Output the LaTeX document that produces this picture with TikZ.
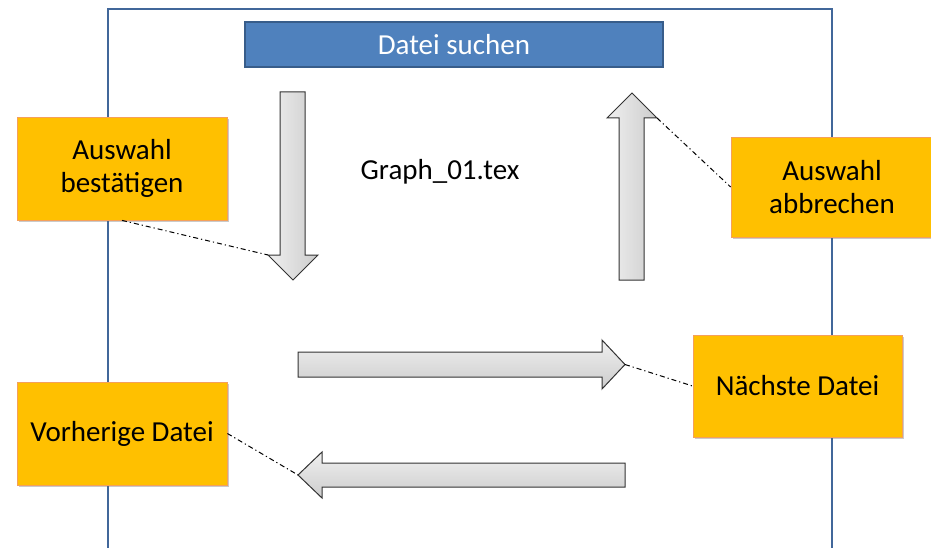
\documentclass[tikz,border=0pt]{standalone}
\usepackage{fontspec}
\setmainfont{Carlito}
\usetikzlibrary{shadows}
\definecolor{frameblue}{HTML}{41679A}
\definecolor{boxblue}{HTML}{4F81BD}
\definecolor{boxblueline}{HTML}{385D8A}
\definecolor{boxorange}{HTML}{FFC000}
\definecolor{boxorangeline}{HTML}{F5A05A}
\tikzset{
  labelbox/.style={draw=boxorangeline, line width=0.8pt, fill=boxorange, inner sep=0pt,
    align=center, font=\fontsize{29}{33}\selectfont,
    drop shadow={shadow xshift=2pt, shadow yshift=-2pt, opacity=0.35, fill=black!60}},
  titlebox/.style={draw=boxblueline, line width=1.5pt, fill=boxblue, inner sep=0pt,
    text=white, font=\fontsize{29}{33}\selectfont},
  bigarrow/.style={draw=black!80, line width=1pt, line join=miter},
  hint/.style={draw=black, line width=1pt, dash pattern=on 5pt off 3pt on 1.2pt off 3pt},
  plain/.style={font=\fontsize{29}{33}\selectfont}
}
\begin{document}
\begin{tikzpicture}[x=1pt,y=-1pt]
\useasboundingbox (0,0) rectangle (931,548);
% frame
\draw[frameblue, line width=2.2pt] (108,560) -- (108,9) -- (832,9) -- (832,560);
% title
\node[titlebox, minimum width=418pt, minimum height=45pt] (suchen) at (454,44.5) {Datei suchen};
\node[plain] (graph) at (440,172) {Graph\_01.tex};
% arrows
\shade[bigarrow, left color=gray!12, right color=gray!40]
  (280,92) -- (305,92) -- (305,255) -- (318,255) -- (293,280) -- (268,255) -- (280,255) -- cycle;
\coordinate (downcorner) at (268,255);
\shade[bigarrow, left color=gray!12, right color=gray!40]
  (619,280) -- (644,280) -- (644,118) -- (657,118) -- (632,93) -- (607,118) -- (619,118) -- cycle;
\coordinate (upcorner) at (657,118);
\shade[bigarrow, top color=gray!12, bottom color=gray!40]
  (298,352) -- (602,352) -- (602,340) -- (625,364.5) -- (602,389) -- (602,377) -- (298,377) -- cycle;
\coordinate (righttip) at (625,364.5);
\shade[bigarrow, top color=gray!12, bottom color=gray!40]
  (625,463) -- (322,463) -- (322,452) -- (298,475) -- (322,498) -- (322,487) -- (625,487) -- cycle;
\coordinate (lefttip) at (298,475);
% label boxes
\node[labelbox, minimum width=210pt, minimum height=103pt] (bestaetigen) at (122,168.5) {Auswahl\\bestätigen};
\node[labelbox, minimum width=202pt, minimum height=100pt] (abbrechen) at (832,187) {Auswahl\\abbrechen};
\node[labelbox, minimum width=209pt, minimum height=102pt] (naechste) at (797.5,386) {Nächste Datei};
\node[labelbox, minimum width=210pt, minimum height=103pt] (vorherige) at (122,433.5) {Vorherige Datei};
% hint lines
\draw[hint] (bestaetigen.south) -- (downcorner);
\draw[hint] (upcorner) -- (abbrechen.west);
\draw[hint] (righttip) -- (naechste.west);
\draw[hint] (vorherige.east) -- (lefttip);
\end{tikzpicture}
\end{document}
